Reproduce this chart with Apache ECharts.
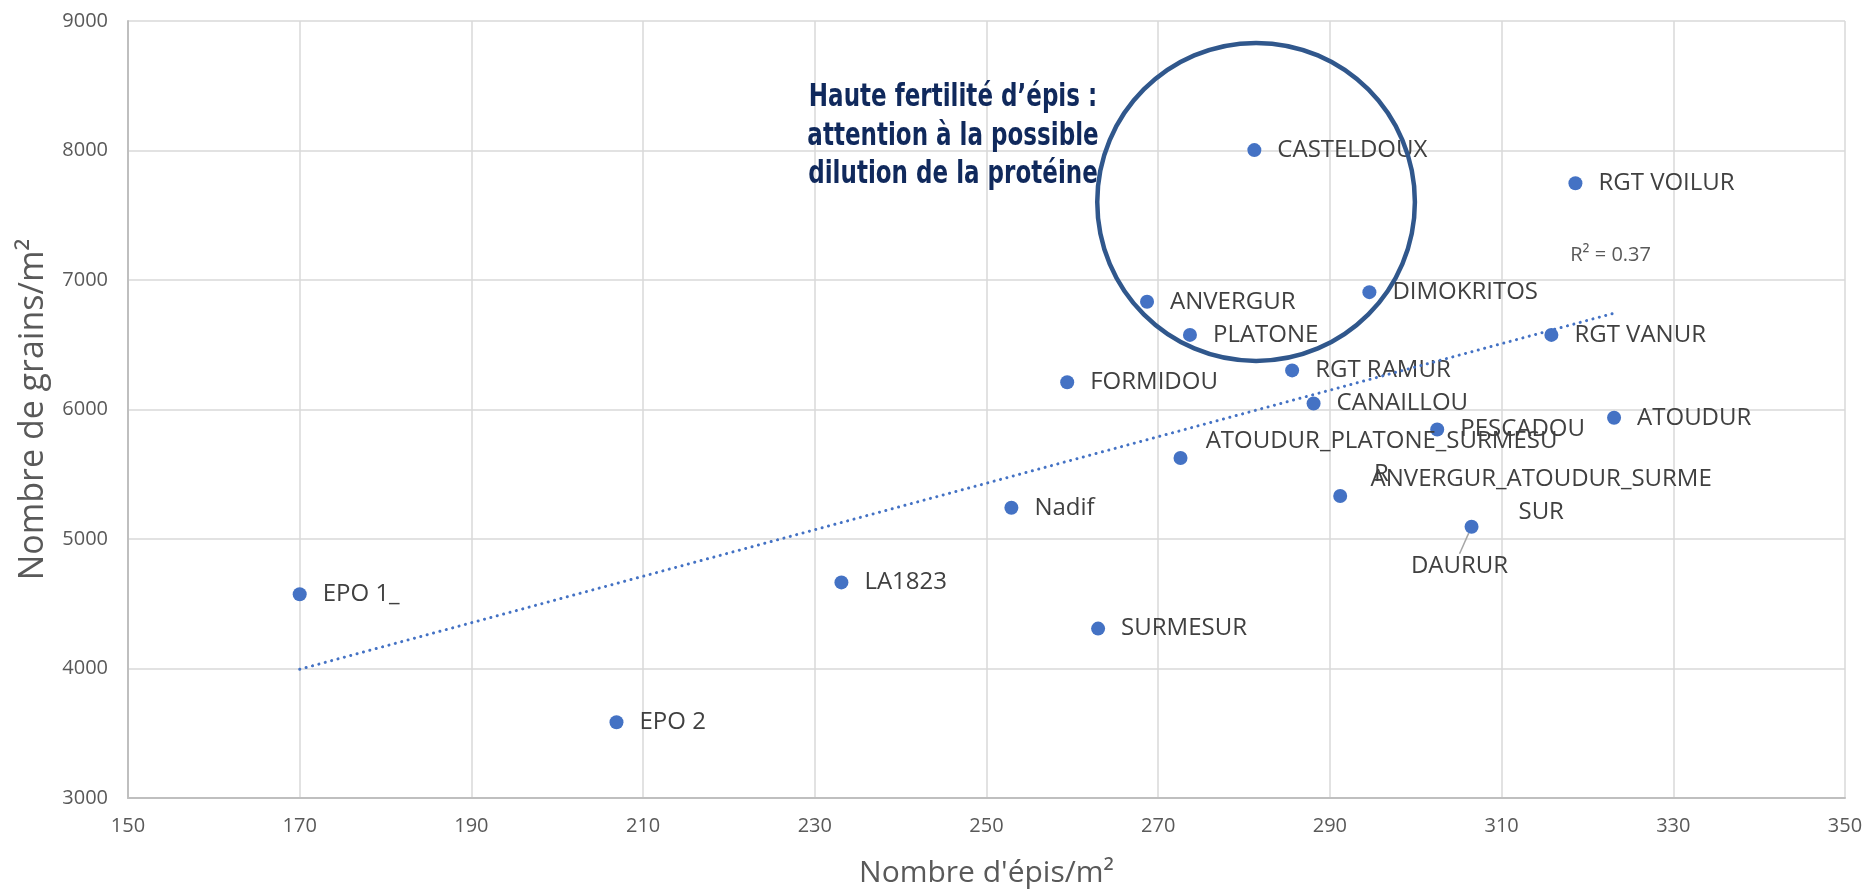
<!DOCTYPE html>
<html>
<head>
<meta charset="utf-8">
<title>Nombre de grains / Nombre d'épis</title>
<script src="https://cdn.jsdelivr.net/npm/echarts@6/dist/echarts.min.js"></script>
<style>
    html, body { margin: 0; padding: 0; background: #fff; }
    #chart { width: 1866px; height: 893px; }
</style>
</head>
<body>
<div id="chart"></div>
<script>
// données
var varieties = ['EPO 1_', 'EPO 2', 'LA1823', 'SURMESUR', 'Nadif', 'FORMIDOU',
    'ATOUDUR_PLATONE_SURMESUR', 'ANVERGUR', 'PLATONE', 'CASTELDOUX', 'RGT RAMUR',
    'CANAILLOU', 'DIMOKRITOS', 'ANVERGUR_ATOUDUR_SURMESUR', 'PESCADOU', 'DAURUR',
    'RGT VANUR', 'RGT VOILUR', 'ATOUDUR'];
var episM2 = [170.0, 206.9, 233.1, 263.0, 252.9, 259.4,
    272.6, 268.7, 273.7, 281.2, 285.6,
    288.1, 294.6, 291.2, 302.5, 306.5,
    315.8, 318.6, 323.1];
var grainsM2 = [4573, 3585, 4665, 4308, 5241, 6210,
    5625, 6832, 6576, 8003, 6302,
    6046, 6906, 5332, 5845, 5095,
    6576, 7747, 5936];

// axes
var xMin = 150, xMax = 350, xStep = 20;
var yMin = 3000, yMax = 9000, yStep = 1000;

// textes
var noteLines = ['Haute fertilité d\u2019épis :', 'attention à la possible', 'dilution de la protéine'];
var xTitle = "Nombre d'épis/m²";
var yTitle = 'Nombre de grains/m²';

// étiquettes coupées comme dans Excel
var wrapped = {
    'ATOUDUR_PLATONE_SURMESUR': 'ATOUDUR_PLATONE_SURMESU\nR',
    'ANVERGUR_ATOUDUR_SURMESUR': 'ANVERGUR_ATOUDUR_SURME\nSUR'
};

var FONT = '"Open Sans", "Segoe UI", sans-serif';
var BLUE = '#4472C4';
var SYM = 14;

// régression linéaire (courbe de tendance)
function linReg(xs, ys) {
    var n = xs.length, mx = 0, my = 0;
    for (var i = 0; i < n; i++) { mx += xs[i]; my += ys[i]; }
    mx /= n; my /= n;
    var sxy = 0, sxx = 0, syy = 0;
    for (var j = 0; j < n; j++) {
        sxy += (xs[j] - mx) * (ys[j] - my);
        sxx += (xs[j] - mx) * (xs[j] - mx);
        syy += (ys[j] - my) * (ys[j] - my);
    }
    var b = sxy / sxx;
    return { a: my - b * mx, b: b, r2: sxy * sxy / (sxx * syy) };
}
var fit = linReg(episM2, grainsM2);
var tMin = Math.min.apply(null, episM2), tMax = Math.max.apply(null, episM2);
var trend = [[tMin, fit.a + fit.b * tMin], [tMax, fit.a + fit.b * tMax]];

var points = varieties.map(function (name, i) {
    var item = { name: name, value: [episM2[i], grainsM2[i]] };
    if (wrapped[name]) {
        item.label = {
            formatter: wrapped[name],
            position: [SYM / 2 + 201, SYM / 2],
            align: 'center',
            verticalAlign: 'middle',
            lineHeight: 33
        };
    }
    if (name === 'DAURUR') {
        item.label = {
            position: [SYM / 2 - 12, SYM / 2 + 39],
            align: 'center',
            verticalAlign: 'middle'
        };
        item.labelLine = { show: true, lineStyle: { color: '#a6a6a6', width: 1.5 } };
    }
    return item;
});

var chart = echarts.init(document.getElementById('chart'));
var option = {
    backgroundColor: '#ffffff',
    animation: false,
    grid: { left: 128, right: 21, top: 21, bottom: 90.5 },
    xAxis: {
        type: 'value', min: xMin, max: xMax, interval: xStep,
        name: xTitle, nameLocation: 'middle', nameGap: 60,
        nameTextStyle: { fontFamily: FONT, fontSize: 30, color: '#595959' },
        axisLine: { show: true, lineStyle: { color: '#bfbfbf', width: 2 } },
        axisTick: { show: false },
        axisLabel: { fontFamily: FONT, fontSize: 20, color: '#595959', margin: 18,
            formatter: function (v) { return String(v); } },
        splitLine: { show: true, lineStyle: { color: '#d9d9d9', width: 1.5 } }
    },
    yAxis: {
        type: 'value', min: yMin, max: yMax, interval: yStep,
        name: yTitle, nameLocation: 'middle', nameGap: 78,
        nameTextStyle: { fontFamily: FONT, fontSize: 34, color: '#595959' },
        axisLine: { show: true, lineStyle: { color: '#bfbfbf', width: 2 } },
        axisTick: { show: false },
        axisLabel: { fontFamily: FONT, fontSize: 20, color: '#595959', margin: 20,
            formatter: function (v) { return String(v); } },
        splitLine: { show: true, lineStyle: { color: '#d9d9d9', width: 1.5 } }
    },
    series: [
        {
            name: 'Tendance',
            type: 'line',
            data: trend,
            symbol: 'none',
            silent: true,
            z: 3,
            lineStyle: { color: BLUE, width: 3, type: [0.1, 6.5], cap: 'round' }
        },
        {
            name: 'Variétés',
            type: 'scatter',
            data: points,
            symbolSize: SYM,
            z: 2,
            itemStyle: { color: BLUE, opacity: 1 },
            label: {
                show: true,
                position: 'right',
                distance: 16,
                formatter: '{b}',
                fontFamily: FONT,
                fontSize: 24,
                color: '#404040'
            }
        }
    ]
};
chart.setOption(option);

// annotations : cercle, texte et R²
function px(x, y) { return chart.convertToPixel({ gridIndex: 0 }, [x, y]); }
var ellC = px(281.4, 7603);
var ellE = px(281.4 + 18.5, 7603 - 1228);
var r2Pos = px(318.0, 7188);
var notePos = px(246.1, 0);
var noteY = [98, 137, 175];

var graphics = [
    {
        type: 'ellipse',
        shape: { cx: ellC[0], cy: ellC[1], rx: ellE[0] - ellC[0], ry: ellE[1] - ellC[1] },
        style: { fill: 'none', stroke: '#30578c', lineWidth: 4.5 },
        z: 10
    },
    {
        type: 'text',
        style: {
            text: 'R² = ' + fit.r2.toFixed(2),
            x: r2Pos[0], y: r2Pos[1],
            fill: '#595959',
            font: '20px ' + FONT,
            textAlign: 'left', textVerticalAlign: 'middle'
        },
        z: 10
    }
];
noteLines.forEach(function (line, i) {
    graphics.push({
        type: 'text',
        x: notePos[0], y: noteY[i],
        scaleX: 0.8,
        style: {
            text: line,
            x: 0, y: 0,
            fill: '#10295c',
            font: 'bold 32px "Liberation Sans Narrow", "DejaVu Sans Condensed", sans-serif',
            textAlign: 'center', textVerticalAlign: 'middle'
        },
        z: 10
    });
});
chart.setOption({ graphic: graphics });
</script>
</body>
</html>
